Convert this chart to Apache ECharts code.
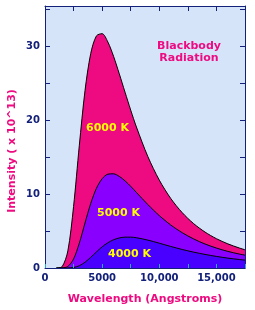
<!DOCTYPE html>
<html>
<head>
<meta charset="utf-8">
<script src="https://cdn.jsdelivr.net/npm/echarts@6/dist/echarts.min.js"></script>
<style>
	html, body {margin: 0; padding: 0; background: #fff;}
	#main {width: 255px; height: 310px;}
</style>
</head>
<body>
<div id="main"></div>
<script>
//波长 (Angstroms)
var wavelengths = [1000, 1500, 2000, 2500, 3000, 3500, 4000, 4500, 5000, 5500, 6000, 6500, 7000, 7500, 8000, 9000, 10000, 11000, 12000, 13000, 14000, 15000, 16000, 17000, 17500]
//强度 (x 10^13)
var t6000 = [0, 0.18, 2.31, 8.33, 16.56, 24.02, 29.05, 31.45, 31.75, 30.62, 28.68, 26.31, 23.83, 21.39, 19.10, 15.10, 11.91, 9.43, 7.51, 6.02, 4.87, 3.97, 3.27, 2.71, 2.47]
var t5000 = [0, 0.01, 0.21, 1.22, 3.35, 6.10, 8.74, 10.80, 12.10, 12.71, 12.76, 12.41, 11.81, 11.06, 10.24, 8.59, 7.10, 5.83, 4.79, 3.94, 3.25, 2.70, 2.25, 1.89, 1.74]
var t4000 = [0, 0, 0.01, 0.07, 0.30, 0.78, 1.45, 2.18, 2.87, 3.42, 3.83, 4.07, 4.18, 4.18, 4.10, 3.78, 3.36, 2.92, 2.51, 2.15, 1.84, 1.57, 1.34, 1.15, 1.07]
var seriesNames = ['6000 K', '5000 K', '4000 K']
var xTicks = [0, 5000, 10000, 15000]
var yTicks = [0, 10, 20, 30]

var navy = '#14217A'
var pink = '#EE0A80'
var font = 'DejaVu Sans'

function pairs(values) {
	var result = []
	for (var x = 0; x < wavelengths.length; x++) {
		result.push([wavelengths[x], values[x]])
	}
	return result
}

function curve(name, values, color) {
	return {
		name: name,
		type: 'line',
		data: pairs(values),
		smooth: 0.3,
		showSymbol: false,
		silent: true,
		z: 2,
		lineStyle: {color: '#000', width: 1},
		areaStyle: {color: color, opacity: 1},
		xAxisIndex: 0,
		yAxisIndex: 0
	}
}

function xLabel(v) {
	if (xTicks.indexOf(v) < 0) return ''
	return v >= 10000 ? String(v).replace(/(\d)(?=(\d{3})+$)/g, '$1,') : String(v)
}

function yLabel(v) {
	return yTicks.indexOf(v) < 0 ? '' : String(v)
}

//框线上的刻度（上、右），画在曲线上面
function frameAxis(extra) {
	var axis = {
		type: 'value',
		z: 5,
		axisLine: {show: true, onZero: false, lineStyle: {color: navy, width: 1}},
		axisTick: {show: true, inside: true, length: 5, lineStyle: {color: navy}},
		axisLabel: {show: false},
		splitLine: {show: false}
	}
	for (var k in extra) axis[k] = extra[k]
	return axis
}

function label(text, x, y, color, extra, rotation) {
	var style = {text: text, fill: color, font: 'bold 11px ' + font, verticalAlign: 'middle'}
	for (var k in extra) style[k] = extra[k]
	return {type: 'text', x: x, y: y, z: 10, rotation: rotation || 0, style: style}
}

var chart = echarts.init(document.getElementById('main'))
chart.setOption({
	animation: false,
	grid: {
		left: 45, right: 10, top: 6, bottom: 42,
		show: true, backgroundColor: '#D6E4FA', borderWidth: 0
	},
	xAxis: [
		frameAxis({min: 0, max: 17500, interval: 2500,
			name: 'Wavelength (Angstroms)', nameLocation: 'middle', nameGap: 26,
			nameTextStyle: {color: pink, fontFamily: font, fontWeight: 'bold', fontSize: 11},
			axisTick: {show: true, inside: true, length: 4, lineStyle: {color: '#20B0C8'}},
			axisLabel: {formatter: xLabel, color: navy, fontFamily: font, fontWeight: 'bold', fontSize: 10, margin: 5}}),
		frameAxis({position: 'top', min: 0, max: 17500, interval: 2500})
	],
	yAxis: [
		frameAxis({min: 0, max: 35.5, interval: 5,
			axisLabel: {formatter: yLabel, color: navy, fontFamily: font, fontWeight: 'bold', fontSize: 10, margin: 5}}),
		frameAxis({position: 'right', min: 0, max: 35.5, interval: 5})
	],
	series: [
		curve(seriesNames[0], t6000, '#EE0A80'),
		curve(seriesNames[1], t5000, '#8A00FF'),
		curve(seriesNames[2], t4000, '#4A00FF'),
		//让上、右两条轴也画出来
		{type: 'line', data: [], xAxisIndex: 1, yAxisIndex: 1, silent: true}
	],
	graphic: [
		label('Intensity ( x 10^13)', 12, 151, pink, {align: 'center'}, Math.PI / 2),
		label('Blackbody\nRadiation', 189, 52, pink, {align: 'center', lineHeight: 12}),
		label(seriesNames[0], 86, 128, '#FFFF00'),
		label(seriesNames[1], 97, 213, '#FFFF00'),
		label(seriesNames[2], 108, 254, '#FFFF00')
	]
})
</script>
</body>
</html>
